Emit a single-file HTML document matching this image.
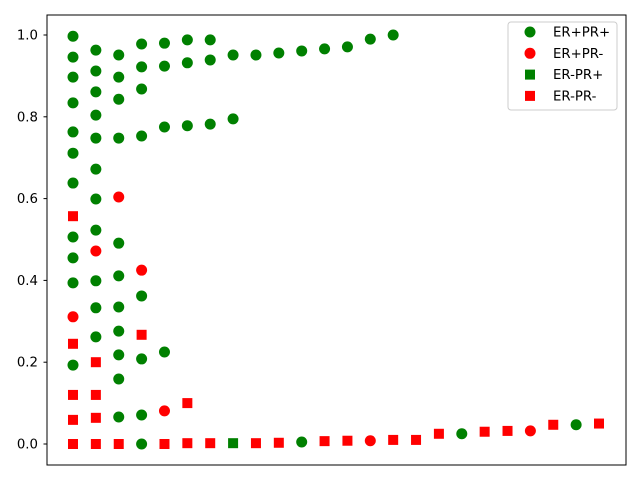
<!DOCTYPE html>
<html><head><meta charset="utf-8"><style>
body{margin:0;background:#fff}
svg text{font-family:"DejaVu Sans","Liberation Sans",sans-serif;font-size:13.3px;fill:#000}
</style></head><body>
<svg id="chart" width="640" height="480" xmlns="http://www.w3.org/2000/svg">
<rect x="0" y="0" width="640" height="480" fill="#fff"/>
<g id="ticks"></g>
<g id="marks"></g>
<rect x="47" y="15" width="579" height="450" fill="none" stroke="#000" stroke-width="1"/>
<g id="legend">
<rect x="508" y="22" width="109" height="88" rx="3" fill="#fff" fill-opacity="0.8" stroke="#ccc"/>
</g>
</svg>
<script>
const yTicks=[0.0,0.2,0.4,0.6,0.8,1.0];
const yTickLabels=["0.0","0.2","0.4","0.6","0.8","1.0"];
const seriesNames=["ER+PR+","ER+PR-","ER-PR+","ER-PR-"];
const posPosX=[0,0,0,0,0,0,0,0,0,0,0,1,1,1,1,1,1,1,1,1,1,1,2,2,2,2,2,2,2,2,2,2,2,3,3,3,3,3,3,3,3,4,4,4,4,5,5,5,6,6,6,7,7,8,9,10,10,11,12,13,14,17,22];
const posPosY=[0.997,0.946,0.897,0.834,0.763,0.711,0.638,0.506,0.455,0.394,0.193,0.963,0.912,0.861,0.804,0.748,0.672,0.599,0.523,0.399,0.333,0.262,0.951,0.897,0.843,0.748,0.491,0.411,0.335,0.276,0.218,0.159,0.066,0.978,0.922,0.868,0.753,0.362,0.208,0.071,0.0,0.98,0.924,0.775,0.225,0.988,0.932,0.778,0.988,0.939,0.782,0.951,0.795,0.951,0.956,0.961,0.005,0.966,0.971,0.99,1.0,0.025,0.047];
const posNegX=[0,1,2,3,4,13,20];
const posNegY=[0.311,0.472,0.604,0.425,0.081,0.008,0.032];
const negPosX=[7];
const negPosY=[0.002];
const negNegX=[0,0,0,0,0,1,1,1,1,2,3,4,5,5,6,8,9,11,12,14,15,16,18,19,21,23];
const negNegY=[0.557,0.245,0.12,0.059,0.0,0.2,0.12,0.064,0.0,0.0,0.267,0.0,0.1,0.002,0.002,0.002,0.003,0.007,0.008,0.01,0.01,0.025,0.03,0.032,0.047,0.05];
const NS="http://www.w3.org/2000/svg";
function sx(i){return 73+i*(599-73)/23;}
function sy(v){return 444-v*409;}
function mk(tag,attrs,parent){const e=document.createElementNS(NS,tag);for(const k in attrs)e.setAttribute(k,attrs[k]);parent.appendChild(e);return e;}
const tg=document.getElementById('ticks');
yTicks.forEach((t,i)=>{
  const l=mk('line',{x1:43.5,x2:47,y1:sy(t),y2:sy(t),stroke:'#000'},tg);
  
  
  const tx=mk('text',{x:38,y:sy(t)+4.5,'text-anchor':'end'},tg);
  tx.textContent=yTickLabels[i];
  
  
});
const mg=document.getElementById('marks');
function circ(x,y,c,parent,name){const e=mk('circle',{cx:x,cy:y,r:5.5,fill:c},parent);}
function sq(x,y,c,parent,name){const e=mk('rect',{x:x-5,y:y-5,width:10,height:10,fill:c},parent);}
posPosX.forEach((x,i)=>circ(sx(x),sy(posPosY[i]),'green',mg,'point-er-pos-pr-pos'));
posNegX.forEach((x,i)=>circ(sx(x),sy(posNegY[i]),'red',mg,'point-er-pos-pr-neg'));
negPosX.forEach((x,i)=>sq(sx(x),sy(negPosY[i]),'green',mg,'point-er-neg-pr-pos'));
negNegX.forEach((x,i)=>sq(sx(x),sy(negNegY[i]),'red',mg,'point-er-neg-pr-neg'));
const lg=document.getElementById('legend');
const shapes=[['c','green'],['c','red'],['s','green'],['s','red']];
seriesNames.forEach((n,i)=>{
  const y=32+i*21.3;
  if(shapes[i][0]=='c')circ(530,y,shapes[i][1],lg,'legend-marker');else sq(530,y,shapes[i][1],lg,'legend-marker');
  const t=mk('text',{x:553,y:y+4.5},lg);
  t.textContent=n;
  
  
});
</script>
</body></html>
